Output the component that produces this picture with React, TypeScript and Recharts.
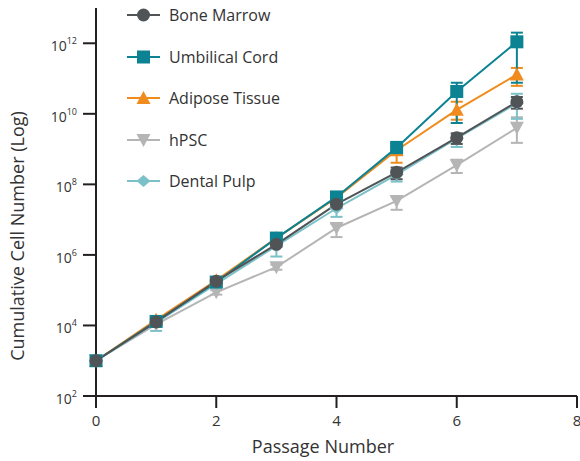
import React from 'react';
import { LineChart, Line, XAxis, YAxis, ErrorBar, Legend } from 'recharts';

const passages = [0, 1, 2, 3, 4, 5, 6, 7];

const seriesNames = ['Bone Marrow', 'Umbilical Cord', 'Adipose Tissue', 'hPSC', 'Dental Pulp'];

const boneMarrow = [1e3, 1.26e4, 1.8e5, 2.0e6, 2.75e7, 2.2e8, 2.1e9, 2.2e10];
const boneMarrowLow = [0.95e3, 1.1e4, 1.6e5, 1.7e6, 2.3e7, 1.4e8, 1.4e9, 1.4e10];
const boneMarrowHigh = [1.05e3, 1.4e4, 2.0e5, 2.3e6, 3.2e7, 3.0e8, 2.8e9, 3.0e10];

const umbilicalCord = [1e3, 1.3e4, 1.7e5, 3.0e6, 4.4e7, 1.1e9, 4.3e10, 1.1e12];
const umbilicalCordLow = [0.95e3, 1.15e4, 1.5e5, 2.6e6, 3.8e7, 7e8, 5.5e9, 7.6e10];
const umbilicalCordHigh = [1.05e3, 1.45e4, 1.9e5, 3.4e6, 5.0e7, 1.6e9, 7.6e10, 2.0e12];

const adiposeTissue = [1e3, 1.45e4, 1.9e5, 3.0e6, 4.2e7, 9.3e8, 1.3e10, 1.3e11];
const adiposeTissueLow = [0.95e3, 1.3e4, 1.7e5, 2.6e6, 3.6e7, 4.1e8, 6.8e9, 6.2e10];
const adiposeTissueHigh = [1.05e3, 1.6e4, 2.1e5, 3.4e6, 4.8e7, 1.3e9, 2.2e10, 2.0e11];

const hpsc = [1e3, 1.07e4, 8.7e4, 4.5e5, 5.8e6, 3.4e7, 3.5e8, 4.0e9];
const hpscLow = [0.95e3, 0.95e4, 7.5e4, 3.8e5, 3.2e6, 1.9e7, 2.1e8, 1.5e9];
const hpscHigh = [1.05e3, 1.2e4, 1.0e5, 5.3e5, 7.5e6, 4.5e7, 5.0e8, 8.0e9];

const dentalPulp = [1e3, 1.2e4, 1.5e5, 1.8e6, 2.1e7, 1.9e8, 2.0e9, 2.0e10];
const dentalPulpLow = [0.95e3, 7e3, 1.3e5, 9e5, 1.2e7, 1.2e8, 1.15e9, 7.2e9];
const dentalPulpHigh = [1.05e3, 1.4e4, 1.7e5, 2.6e6, 3.0e7, 2.6e8, 2.7e9, 3.7e10];

const xTicks = [0, 2, 4, 6, 8];
const yTicks = [1e2, 1e4, 1e6, 1e8, 1e10, 1e12];

const COLORS = {
  bm: '#505456',
  uc: '#0b8393',
  at: '#f08c1e',
  hp: '#b5b5b5',
  dp: '#7cc1c9',
};

const FONT = '"Open Sans", "Noto Sans", sans-serif';
const TEXT = '#333333';
const AXIS = '#231f20';

const data = passages.map((p, i) => ({
  p,
  bm: boneMarrow[i],
  bmErr: [boneMarrow[i] - boneMarrowLow[i], boneMarrowHigh[i] - boneMarrow[i]],
  uc: umbilicalCord[i],
  ucErr: [umbilicalCord[i] - umbilicalCordLow[i], umbilicalCordHigh[i] - umbilicalCord[i]],
  at: adiposeTissue[i],
  atErr: [adiposeTissue[i] - adiposeTissueLow[i], adiposeTissueHigh[i] - adiposeTissue[i]],
  hp: hpsc[i],
  hpErr: [hpsc[i] - hpscLow[i], hpscHigh[i] - hpsc[i]],
  dp: dentalPulp[i],
  dpErr: [dentalPulp[i] - dentalPulpLow[i], dentalPulpHigh[i] - dentalPulp[i]],
}));

type Shape = 'circle' | 'square' | 'up' | 'down' | 'diamond';

function marker(shape: Shape, cx: number, cy: number, color: string, key?: any) {
  switch (shape) {
    case 'circle':
      return <circle key={key} cx={cx} cy={cy} r={6.5} fill={color} />;
    case 'square':
      return <rect key={key} x={cx - 6.5} y={cy - 6.5} width={13} height={13} fill={color} />;
    case 'up':
      return <path key={key} d={`M${cx},${cy - 7} L${cx + 7},${cy + 6} L${cx - 7},${cy + 6} Z`} fill={color} />;
    case 'down':
      return <path key={key} d={`M${cx - 7},${cy - 6} L${cx + 7},${cy - 6} L${cx},${cy + 7} Z`} fill={color} />;
    case 'diamond':
      return <path key={key} d={`M${cx},${cy - 6} L${cx + 7},${cy} L${cx},${cy + 6} L${cx - 7},${cy} Z`} fill={color} />;
  }
  return null;
}

const dotFor = (shape: Shape, color: string) => (props: any) => {
  const { cx, cy, index } = props;
  if (cx == null || cy == null) return <g key={`e${index}`} />;
  return marker(shape, cx, cy, color, `${shape}-${index}`);
};

const legendItems: { name: string; shape: Shape; color: string }[] = [
  { name: seriesNames[0], shape: 'circle', color: COLORS.bm },
  { name: seriesNames[1], shape: 'square', color: COLORS.uc },
  { name: seriesNames[2], shape: 'up', color: COLORS.at },
  { name: seriesNames[3], shape: 'down', color: COLORS.hp },
  { name: seriesNames[4], shape: 'diamond', color: COLORS.dp },
];

const renderLegend = () => (
  <div style={{ position: 'relative', width: 300, height: 200 }}>
    {legendItems.map((it, i) => (
      <div
        key={it.name}
        style={{
          position: 'absolute',
          left: 127,
          top: 15 + i * 41.5 - 10,
          height: 20,
          display: 'flex',
          alignItems: 'center',
          whiteSpace: 'nowrap',
        }}
      >
        <svg width={33} height={20} style={{ display: 'block' }}>
          <line x1={0} y1={10} x2={33} y2={10} stroke={it.color} strokeWidth={2} />
          {marker(it.shape, 16.5, 10, it.color)}
        </svg>
        <span
          style={{
            marginLeft: 9,
            fontFamily: FONT,
            fontSize: 16,
            color: TEXT,
            lineHeight: '20px',
          }}
        >
          {it.name}
        </span>
      </div>
    ))}
  </div>
);

const YTick = (props: any) => {
  const { y, payload } = props;
  const e = Math.round(Math.log10(payload.value));
  return (
    <text x={77} y={y + 8} textAnchor="end" fill={TEXT} fontSize={14} fontFamily={FONT}>
      <tspan>10</tspan>
      <tspan fontSize={9} dy={-7}>
        {e}
      </tspan>
    </text>
  );
};

const XTick = (props: any) => {
  const { x, payload } = props;
  return (
    <text x={x} y={426} textAnchor="middle" fill={TEXT} fontSize={15} fontFamily={FONT}>
      {payload.value}
    </text>
  );
};

const lineProps = {
  type: 'linear' as const,
  strokeWidth: 2,
  isAnimationActive: false,
  activeDot: false as const,
};

export default function App() {
  return (
    <div style={{ position: 'absolute', left: 0, top: 0, width: 580, height: 461, background: '#fff' }}>
      <LineChart width={580} height={461} data={data} margin={{ top: 8, right: 3, bottom: 0, left: 0 }}>
        <XAxis
          dataKey="p"
          type="number"
          domain={[0, 8]}
          ticks={xTicks}
          height={65}
          stroke={AXIS}
          strokeWidth={2}
          tickSize={12}
          tickLine={{ stroke: AXIS, strokeWidth: 2 }}
          axisLine={{ stroke: AXIS, strokeWidth: 2 }}
          tick={<XTick />}
          interval={0}
          label={{
            content: () => (
              <text x={323} y={453} textAnchor="middle" fill={TEXT} fontSize={18} fontFamily={FONT}>
                Passage Number
              </text>
            ),
          }}
        />
        <YAxis
          type="number"
          scale="log"
          domain={[1e2, 1e13]}
          allowDataOverflow
          ticks={yTicks}
          width={96}
          stroke={AXIS}
          tickSize={13}
          tickLine={{ stroke: AXIS, strokeWidth: 2 }}
          axisLine={{ stroke: AXIS, strokeWidth: 2 }}
          tick={<YTick />}
          interval={0}
          label={{
            content: () => (
              <text
                x={24}
                y={236}
                transform="rotate(-90, 24, 236)"
                textAnchor="middle"
                fill={TEXT}
                fontSize={18}
                fontFamily={FONT}
              >
                Cumulative Cell Number (Log)
              </text>
            ),
          }}
        />
        <Legend
          layout="vertical"
          align="center"
          verticalAlign="middle"
          content={renderLegend}
          wrapperStyle={{ position: 'absolute', left: 0, top: 0, width: 300, height: 200 }}
        />
        <Line {...lineProps} name={seriesNames[3]} dataKey="hp" stroke={COLORS.hp} dot={dotFor('down', COLORS.hp)}>
          <ErrorBar dataKey="hpErr" direction="y" width={6} stroke={COLORS.hp} strokeWidth={2} />
        </Line>
        <Line {...lineProps} name={seriesNames[4]} dataKey="dp" stroke={COLORS.dp} dot={dotFor('diamond', COLORS.dp)}>
          <ErrorBar dataKey="dpErr" direction="y" width={6} stroke={COLORS.dp} strokeWidth={2} />
        </Line>
        <Line {...lineProps} name={seriesNames[2]} dataKey="at" stroke={COLORS.at} dot={dotFor('up', COLORS.at)}>
          <ErrorBar dataKey="atErr" direction="y" width={6} stroke={COLORS.at} strokeWidth={2} />
        </Line>
        <Line {...lineProps} name={seriesNames[1]} dataKey="uc" stroke={COLORS.uc} dot={dotFor('square', COLORS.uc)}>
          <ErrorBar dataKey="ucErr" direction="y" width={6} stroke={COLORS.uc} strokeWidth={2} />
        </Line>
        <Line {...lineProps} name={seriesNames[0]} dataKey="bm" stroke={COLORS.bm} dot={dotFor('circle', COLORS.bm)}>
          <ErrorBar dataKey="bmErr" direction="y" width={6} stroke={COLORS.bm} strokeWidth={2} />
        </Line>
      </LineChart>
    </div>
  );
}
